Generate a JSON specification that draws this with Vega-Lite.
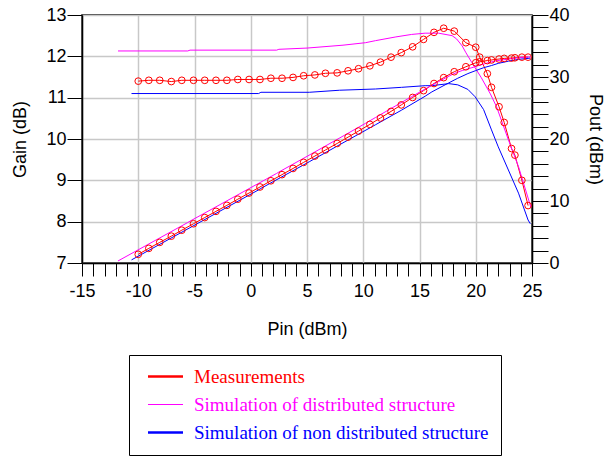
{
  "$schema": "https://vega.github.io/schema/vega-lite/v6.json",
  "width": 450,
  "height": 248,
  "autosize": {"type": "none"},
  "padding": {"left": 82, "top": 15, "right": 74, "bottom": 196},
  "background": "#ffffff",
  "config": {
    "view": {"stroke": "#000000", "strokeWidth": 1.5},
    "axis": {
      "labelFont": "Liberation Sans",
      "titleFont": "Liberation Sans",
      "labelFontSize": 18,
      "titleFontSize": 18,
      "titleFontWeight": "normal",
      "labelColor": "#000000",
      "titleColor": "#000000",
      "domainColor": "#000000",
      "domainWidth": 1.5,
      "tickColor": "#000000",
      "tickWidth": 1,
      "gridColor": "#c8c8c8",
      "gridWidth": 1.5
    }
  },
  "data": {
    "values": [
      {"s": "Measurements", "pin": -10.0, "gain": 11.40, "pout": 1.40},
      {"s": "Measurements", "pin": -9.06, "gain": 11.42, "pout": 2.36},
      {"s": "Measurements", "pin": -8.09, "gain": 11.42, "pout": 3.33},
      {"s": "Measurements", "pin": -7.06, "gain": 11.39, "pout": 4.33},
      {"s": "Measurements", "pin": -6.13, "gain": 11.42, "pout": 5.29},
      {"s": "Measurements", "pin": -5.09, "gain": 11.42, "pout": 6.33},
      {"s": "Measurements", "pin": -4.09, "gain": 11.42, "pout": 7.33},
      {"s": "Measurements", "pin": -3.09, "gain": 11.42, "pout": 8.33},
      {"s": "Measurements", "pin": -2.12, "gain": 11.42, "pout": 9.30},
      {"s": "Measurements", "pin": -1.15, "gain": 11.44, "pout": 10.29},
      {"s": "Measurements", "pin": -0.15, "gain": 11.44, "pout": 11.29},
      {"s": "Measurements", "pin": 0.82, "gain": 11.44, "pout": 12.26},
      {"s": "Measurements", "pin": 1.79, "gain": 11.47, "pout": 13.26},
      {"s": "Measurements", "pin": 2.78, "gain": 11.47, "pout": 14.25},
      {"s": "Measurements", "pin": 3.76, "gain": 11.49, "pout": 15.25},
      {"s": "Measurements", "pin": 4.70, "gain": 11.53, "pout": 16.23},
      {"s": "Measurements", "pin": 5.70, "gain": 11.55, "pout": 17.25},
      {"s": "Measurements", "pin": 6.64, "gain": 11.59, "pout": 18.23},
      {"s": "Measurements", "pin": 7.68, "gain": 11.60, "pout": 19.28},
      {"s": "Measurements", "pin": 8.65, "gain": 11.65, "pout": 20.30},
      {"s": "Measurements", "pin": 9.58, "gain": 11.70, "pout": 21.28},
      {"s": "Measurements", "pin": 10.59, "gain": 11.77, "pout": 22.36},
      {"s": "Measurements", "pin": 11.53, "gain": 11.86, "pout": 23.39},
      {"s": "Measurements", "pin": 12.47, "gain": 11.98, "pout": 24.45},
      {"s": "Measurements", "pin": 13.38, "gain": 12.09, "pout": 25.50},
      {"s": "Measurements", "pin": 14.39, "gain": 12.23, "pout": 26.70},
      {"s": "Measurements", "pin": 15.36, "gain": 12.41, "pout": 27.80},
      {"s": "Measurements", "pin": 16.29, "gain": 12.58, "pout": 28.95},
      {"s": "Measurements", "pin": 17.15, "gain": 12.68, "pout": 29.90},
      {"s": "Measurements", "pin": 18.09, "gain": 12.61, "pout": 30.85},
      {"s": "Measurements", "pin": 19.12, "gain": 12.33, "pout": 31.65},
      {"s": "Measurements", "pin": 20.0, "gain": 12.22, "pout": 32.30},
      {"s": "Measurements", "pin": 20.35, "gain": 11.98, "pout": 32.45},
      {"s": "Measurements", "pin": 21.03, "gain": 11.58, "pout": 32.65},
      {"s": "Measurements", "pin": 21.4, "gain": 11.25, "pout": 32.75},
      {"s": "Measurements", "pin": 22.07, "gain": 10.78, "pout": 32.90},
      {"s": "Measurements", "pin": 22.53, "gain": 10.40, "pout": 33.00},
      {"s": "Measurements", "pin": 23.18, "gain": 9.77, "pout": 33.05},
      {"s": "Measurements", "pin": 23.48, "gain": 9.61, "pout": 33.10},
      {"s": "Measurements", "pin": 24.1, "gain": 9.00, "pout": 33.20},
      {"s": "Measurements", "pin": 24.65, "gain": 8.39, "pout": 33.20},

      {"s": "Simulation of distributed structure", "pin": -11.8, "gain": 12.13, "pout": 0.33},
      {"s": "Simulation of distributed structure", "pin": -5.6, "gain": 12.13, "pout": 6.53},
      {"s": "Simulation of distributed structure", "pin": -5.4, "gain": 12.15, "pout": 6.75},
      {"s": "Simulation of distributed structure", "pin": 2.3, "gain": 12.15, "pout": 14.45},
      {"s": "Simulation of distributed structure", "pin": 2.5, "gain": 12.17, "pout": 14.67},
      {"s": "Simulation of distributed structure", "pin": 5.0, "gain": 12.20, "pout": 17.20},
      {"s": "Simulation of distributed structure", "pin": 8.2, "gain": 12.27, "pout": 20.47},
      {"s": "Simulation of distributed structure", "pin": 10.2, "gain": 12.33, "pout": 22.53},
      {"s": "Simulation of distributed structure", "pin": 11.1, "gain": 12.38, "pout": 23.48},
      {"s": "Simulation of distributed structure", "pin": 12.9, "gain": 12.47, "pout": 25.37},
      {"s": "Simulation of distributed structure", "pin": 14.3, "gain": 12.53, "pout": 26.83},
      {"s": "Simulation of distributed structure", "pin": 15.5, "gain": 12.56, "pout": 28.06},
      {"s": "Simulation of distributed structure", "pin": 16.7, "gain": 12.56, "pout": 29.26},
      {"s": "Simulation of distributed structure", "pin": 17.9, "gain": 12.50, "pout": 30.40},
      {"s": "Simulation of distributed structure", "pin": 18.3, "gain": 12.42, "pout": 30.72},
      {"s": "Simulation of distributed structure", "pin": 18.8, "gain": 12.25, "pout": 31.05},
      {"s": "Simulation of distributed structure", "pin": 19.1, "gain": 12.10, "pout": 31.20},
      {"s": "Simulation of distributed structure", "pin": 19.65, "gain": 11.85, "pout": 31.50},
      {"s": "Simulation of distributed structure", "pin": 20.5, "gain": 11.48, "pout": 31.98},
      {"s": "Simulation of distributed structure", "pin": 21.3, "gain": 11.09, "pout": 32.39},
      {"s": "Simulation of distributed structure", "pin": 21.85, "gain": 10.78, "pout": 32.63},
      {"s": "Simulation of distributed structure", "pin": 22.9, "gain": 9.98, "pout": 32.88},
      {"s": "Simulation of distributed structure", "pin": 23.8, "gain": 9.33, "pout": 33.13},
      {"s": "Simulation of distributed structure", "pin": 24.9, "gain": 8.35, "pout": 33.25},

      {"s": "Simulation of non distributed structure", "pin": -10.6, "gain": 11.10, "pout": 0.50},
      {"s": "Simulation of non distributed structure", "pin": 0.7, "gain": 11.10, "pout": 11.80},
      {"s": "Simulation of non distributed structure", "pin": 0.9, "gain": 11.13, "pout": 12.03},
      {"s": "Simulation of non distributed structure", "pin": 5.2, "gain": 11.13, "pout": 16.33},
      {"s": "Simulation of non distributed structure", "pin": 7.9, "gain": 11.18, "pout": 19.08},
      {"s": "Simulation of non distributed structure", "pin": 11.1, "gain": 11.21, "pout": 22.31},
      {"s": "Simulation of non distributed structure", "pin": 13.4, "gain": 11.25, "pout": 24.65},
      {"s": "Simulation of non distributed structure", "pin": 15.5, "gain": 11.29, "pout": 26.90},
      {"s": "Simulation of non distributed structure", "pin": 16.1, "gain": 11.29, "pout": 27.60},
      {"s": "Simulation of non distributed structure", "pin": 17.6, "gain": 11.34, "pout": 29.05},
      {"s": "Simulation of non distributed structure", "pin": 18.4, "gain": 11.31, "pout": 29.80},
      {"s": "Simulation of non distributed structure", "pin": 19.3, "gain": 11.20, "pout": 30.55},
      {"s": "Simulation of non distributed structure", "pin": 19.95, "gain": 11.02, "pout": 31.00},
      {"s": "Simulation of non distributed structure", "pin": 20.7, "gain": 10.71, "pout": 31.50},
      {"s": "Simulation of non distributed structure", "pin": 21.4, "gain": 10.22, "pout": 31.85},
      {"s": "Simulation of non distributed structure", "pin": 22.0, "gain": 9.81, "pout": 32.20},
      {"s": "Simulation of non distributed structure", "pin": 22.9, "gain": 9.25, "pout": 32.55},
      {"s": "Simulation of non distributed structure", "pin": 23.8, "gain": 8.69, "pout": 32.85},
      {"s": "Simulation of non distributed structure", "pin": 24.65, "gain": 8.04, "pout": 33.00},
      {"s": "Simulation of non distributed structure", "pin": 24.85, "gain": 7.95, "pout": 33.05}
    ]
  },
  "encoding": {
    "x": {
      "field": "pin",
      "type": "quantitative",
      "scale": {"domain": [-15, 25], "nice": false, "zero": false},
      "axis": {
        "title": "Pin (dBm)",
        "values": [-15, -14, -13, -12, -11, -10, -9, -8, -7, -6, -5, -4, -3, -2, -1, 0, 1, 2, 3, 4, 5, 6, 7, 8, 9, 10, 11, 12, 13, 14, 15, 16, 17, 18, 19, 20, 21, 22, 23, 24, 25],
        "format": "d",
        "labelExpr": "datum.value % 5 === 0 ? replace(datum.label, '\u2212', '-') : ''",
        "tickSize": 13,
        "labelPadding": 6,
        "titlePadding": 20,
        "labelFlush": false,
        "labelOverlap": false,
        "gridOpacity": {"condition": {"test": "datum.value % 5 === 0", "value": 1}, "value": 0},
        "encode": {"ticks": {"update": {"y2": {"signal": "datum.value % 5 === 0 ? 13 : 7"}}}}
      }
    }
  },
  "layer": [
    {
      "encoding": {
        "y": {
          "field": "gain",
          "type": "quantitative",
          "scale": {"domain": [7, 13], "nice": false, "zero": false},
          "axis": {
            "title": "Gain (dB)",
            "orient": "left",
            "values": [7, 7.5, 8, 8.5, 9, 9.5, 10, 10.5, 11, 11.5, 12, 12.5, 13],
            "format": "d",
            "labelExpr": "datum.value % 1 === 0 ? datum.label : ''",
            "tickSize": 15,
            "labelPadding": 1,
            "titlePadding": 16,
            "labelFlush": false,
            "labelOverlap": false,
            "gridOpacity": {"condition": {"test": "datum.value % 1 === 0", "value": 1}, "value": 0},
            "encode": {"ticks": {"update": {"x2": {"signal": "datum.value % 1 === 0 ? -15 : -6"}}}}
          }
        }
      },
      "layer": [
        {
          "mark": {"type": "line", "strokeWidth": 1},
          "encoding": {
            "color": {
              "field": "s",
              "type": "nominal",
              "scale": {
                "domain": ["Measurements", "Simulation of distributed structure", "Simulation of non distributed structure"],
                "range": ["#ff0000", "#ff00ff", "#0000ff"]
              },
              "legend": {
                "orient": "none",
                "legendX": 47,
                "legendY": 340,
                "title": null,
                "direction": "vertical",
                "symbolType": "stroke",
                "symbolSize": 1225,
                "symbolStrokeWidth": 2.5,
                "symbolOffset": 15,
                "labelFont": "Liberation Serif",
                "labelFontSize": 19,
                "labelOffset": 19,
                "labelLimit": 0,
                "rowPadding": 8,
                "padding": 12,
                "strokeColor": "#000000",
                "fillColor": "#ffffff",
                "encode": {
                  "labels": {"update": {"fill": {"signal": "datum.label === 'Measurements' ? '#ff0000' : datum.label === 'Simulation of distributed structure' ? '#ff00ff' : '#0000ff'"}}},
                  "symbols": {"update": {"strokeWidth": {"signal": "datum.label === 'Simulation of distributed structure' ? 1 : 2.5"}}}
                }
              }
            }
          }
        },
        {
          "transform": [{"filter": "datum.s === 'Measurements'"}],
          "mark": {"type": "point", "shape": "circle", "filled": false, "size": 45, "strokeWidth": 1, "color": "#ff0000", "opacity": 1}
        }
      ]
    },
    {
      "encoding": {
        "y": {
          "field": "pout",
          "type": "quantitative",
          "scale": {"domain": [0, 40], "nice": false, "zero": false},
          "axis": {
            "title": "Pout (dBm)",
            "orient": "right",
            "values": [0, 2, 4, 6, 8, 10, 12, 14, 16, 18, 20, 22, 24, 26, 28, 30, 32, 34, 36, 38, 40],
            "format": "d",
            "labelExpr": "datum.value % 10 === 0 ? datum.label : ''",
            "tickSize": 16,
            "labelPadding": 1,
            "titlePadding": 16,
            "grid": false,
            "labelFlush": false,
            "labelOverlap": false,
            "encode": {"ticks": {"update": {"x2": {"signal": "datum.value % 10 === 0 ? 16 : 8"}}}}
          }
        }
      },
      "layer": [
        {
          "mark": {"type": "line", "strokeWidth": 1},
          "encoding": {
            "color": {"field": "s", "type": "nominal"}
          }
        },
        {
          "transform": [{"filter": "datum.s === 'Measurements'"}],
          "mark": {"type": "point", "shape": "circle", "filled": false, "size": 45, "strokeWidth": 1, "color": "#ff0000", "opacity": 1}
        }
      ]
    }
  ],
  "resolve": {"scale": {"y": "independent"}}
}
